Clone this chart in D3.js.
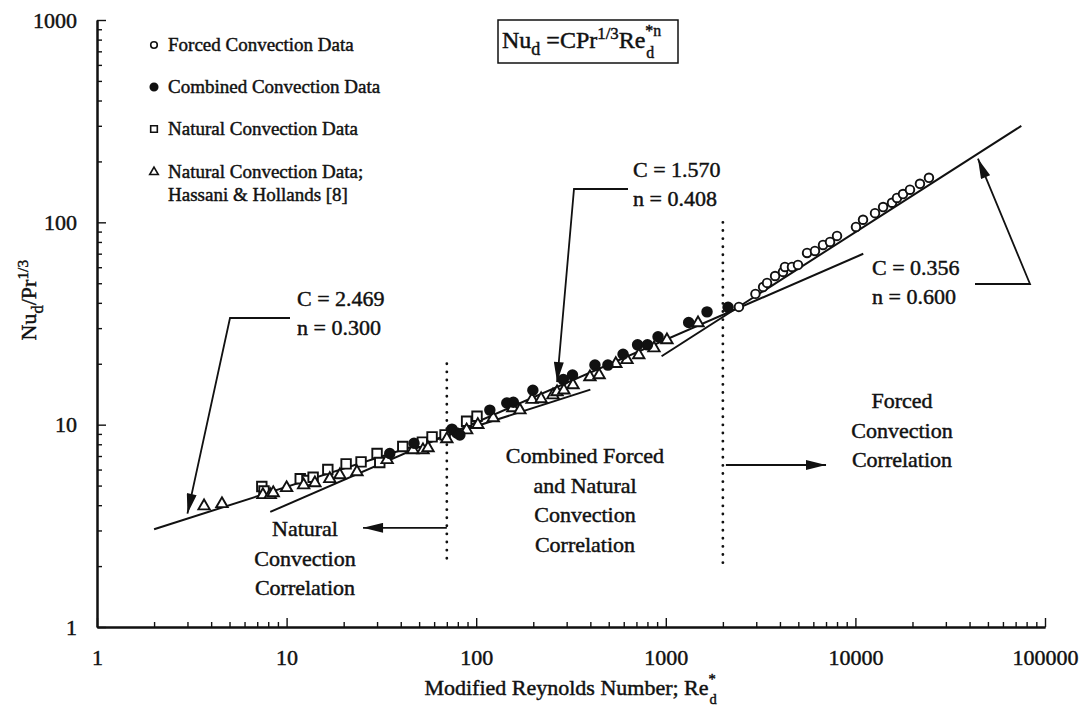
<!DOCTYPE html>
<html>
<head>
<meta charset="utf-8">
<script src="https://cdn.jsdelivr.net/npm/d3@7"></script>
<style>
  body { margin: 0; background: #fff; }
  svg text { font-family: "Liberation Serif", "Times New Roman", serif; fill: #111; }
</style>
</head>
<body>
<svg id="chart" width="1087" height="710"></svg>
<script>
// ---- data: [Re*_d, Nu_d / Pr^(1/3)] ----
const forcedData = [
  [2430, 38.2], [2970, 44.3], [3260, 47.9], [3420, 50.2], [3770, 54.3], [4150, 56.9],
  [4250, 60.2], [4630, 60.2], [4980, 61.6], [5560, 70.6], [6120, 72.2], [6750, 77.3],
  [7350, 80.0], [8000, 85.7], [10070, 94.9], [10970, 103], [12690, 111], [14000, 119],
  [15600, 125], [16570, 132], [17830, 138], [19400, 145], [21900, 155], [24430, 166]
];
const combinedData = [
  [35, 7.2], [47, 8.1], [74.5, 9.5], [79, 9.1], [82, 8.9], [118, 11.8], [145, 12.8],
  [157, 12.9], [199, 14.8], [288, 16.7], [322, 17.6], [423, 19.7], [495, 19.7],
  [595, 22.3], [710, 24.8], [800, 24.8], [910, 27.2], [1320, 32.0], [1650, 36.1], [2130, 38.0]
];
const naturalData = [
  [7.4, 4.95], [7.6, 4.7], [11.8, 5.4], [12.8, 5.3], [13.8, 5.5], [16.5, 6.0], [20.6, 6.4],
  [24.7, 6.55], [30, 7.2], [31, 6.5], [41, 7.8], [52, 8.2], [58.5, 8.7], [68.5, 8.9],
  [89, 10.4], [101, 11.0]
];
const hassaniData = [
  [3.67, 3.96], [4.56, 4.06], [7.5, 4.5], [8.2, 4.5], [8.5, 4.6], [10, 4.87], [12.3, 5.03],
  [14.1, 5.15], [16.9, 5.4], [19.1, 5.64], [23.5, 5.84], [33.9, 6.7], [46.4, 7.5], [52.4, 7.5],
  [55.7, 7.67], [70, 8.5], [89, 9.4], [102, 10.0], [123, 10.8], [156, 12.1], [170, 11.8],
  [197, 13.3], [220, 13.4], [254, 14.0], [267, 14.5], [290, 14.8], [324, 15.7], [398, 17.2],
  [445, 17.6], [545, 20.0], [624, 20.9], [720, 22.1], [866, 23.9], [1014, 26.2], [1479, 31.8]
];

// correlation Nu_d / Pr^(1/3) = C * Re^n, drawn over [from, to]
const correlationC = [2.469, 1.570, 0.356];
const correlationN = [0.300, 0.408, 0.600];
const correlationFrom = [2, 8.2, 950];
const correlationTo = [400, 11000, 75000];
const correlationTipRe = [3.0, 267, 44300];

// regime boundaries in Re*_d
const regimeBounds = [70, 2000];

const xTickValues = [1, 10, 100, 1000, 10000, 100000];
const xTickLabels = ["1", "10", "100", "1000", "10000", "100000"];
const yTickValues = [1, 10, 100, 1000];
const yTickLabels = ["1", "10", "100", "1000"];

const legendLabels = [
  ["Forced Convection Data"],
  ["Combined Convection Data"],
  ["Natural Convection Data"],
  ["Natural Convection Data;", "Hassani & Hollands [8]"]
];

// ---- drawing ----
const svg = d3.select("#chart");
const INK = "#111";

const x = d3.scaleLog().domain([1, 1e5]).range([97, 1045]);
const y = d3.scaleLog().domain([1, 1000]).range([627, 20]);

const defs = svg.append("defs");
defs.append("marker")
  .attr("id", "head")
  .attr("viewBox", "0 0 20 10")
  .attr("refX", 20).attr("refY", 5)
  .attr("markerUnits", "userSpaceOnUse")
  .attr("markerWidth", 21).attr("markerHeight", 10)
  .attr("orient", "auto")
  .append("path").attr("d", "M0,0 L20,5 L0,10 Z").attr("fill", INK);

function minorTicks(decades) {
  const out = [];
  for (let e = 0; e < decades; e++) for (let m = 2; m <= 9; m++) out.push(m * Math.pow(10, e));
  return out;
}

// x axis
const gx = svg.append("g").attr("transform", `translate(0,${y(1)})`);
gx.call(d3.axisBottom(x).tickValues(minorTicks(5)).tickSize(-5).tickSizeOuter(0).tickFormat(""));
gx.append("g").call(d3.axisBottom(x).tickValues(xTickValues).tickSize(-9).tickSizeOuter(0)
  .tickPadding(22).tickFormat((d, i) => xTickLabels[i]));
// y axis
const gy = svg.append("g").attr("transform", `translate(${x(1)},0)`);
gy.call(d3.axisLeft(y).tickValues(minorTicks(3)).tickSize(-5).tickSizeOuter(0).tickFormat(""));
gy.append("g").call(d3.axisLeft(y).tickValues(yTickValues).tickSize(-9).tickSizeOuter(0)
  .tickPadding(20).tickFormat((d, i) => yTickLabels[i]));

svg.selectAll(".domain").attr("stroke", INK).attr("stroke-width", 2);
svg.selectAll(".tick line").attr("stroke", INK).attr("stroke-width", 1.4);
svg.selectAll(".tick text").attr("font-family", null).style("font-size", "22px").attr("fill", INK);

// rich text helper: parts are [string, "sub"|"sup"|undefined]; optional stacked sup/sub at the end
function rich(parent, px, py, size, parts, anchor, stack) {
  const g = parent.append("g");
  const t = g.append("text").attr("x", 0).attr("y", 0).style("font-size", size + "px");
  parts.forEach(([s, kind]) => {
    const sp = t.append("tspan").text(s);
    if (kind === "sub") sp.attr("y", size * 0.3).style("font-size", (size * 0.75) + "px");
    else if (kind === "sup") sp.attr("y", -size * 0.38).style("font-size", (size * 0.7) + "px");
    else sp.attr("y", 0);
  });
  if (stack) {
    const w0 = t.node().getComputedTextLength();
    t.append("tspan").attr("y", -size * 0.5).style("font-size", (size * 0.66) + "px").text(stack[0]);
    t.append("tspan").attr("x", w0 + 1).attr("y", size * 0.4).style("font-size", (size * 0.66) + "px").text(stack[1]);
  }
  const bb = t.node().getBBox();
  let dx = 0;
  if (anchor === "middle") dx = -bb.width / 2;
  if (anchor === "end") dx = -bb.width;
  t.attr("transform", `translate(${dx},0)`);
  g.attr("transform", `translate(${px},${py})`);
  return g;
}

// correlation lines
const line = d3.line().x(d => x(d[0])).y(d => y(d[1]));
correlationC.forEach((C, i) => {
  const n = correlationN[i];
  const pts = [correlationFrom[i], correlationTo[i]].map(r => [r, C * Math.pow(r, n)]);
  svg.append("path").attr("d", line(pts)).attr("fill", "none")
    .attr("stroke", INK).attr("stroke-width", 2);
});

// regime boundaries (dotted)
const boundTop = [20, 100];
regimeBounds.forEach((b, i) => {
  svg.append("line")
    .attr("x1", x(b)).attr("x2", x(b))
    .attr("y1", y(boundTop[i])).attr("y2", y(2))
    .attr("stroke", INK).attr("stroke-width", 2.8)
    .attr("stroke-linecap", "round")
    .attr("stroke-dasharray", "0.1,8");
});

// data markers
const symSquare = d3.symbol().type(d3.symbolSquare).size(90);
const symTri = d3.symbol().type(d3.symbolTriangle).size(56);
const symCircle = d3.symbol().type(d3.symbolCircle).size(58);
const symDot = d3.symbol().type(d3.symbolCircle).size(72);

function plot(data, sym, filled) {
  svg.append("g").selectAll("path").data(data).join("path")
    .attr("transform", d => `translate(${x(d[0])},${y(d[1])})`)
    .attr("d", sym)
    .attr("fill", filled ? INK : "#fff")
    .attr("stroke", INK).attr("stroke-width", 1.9);
}
plot(naturalData, symSquare, false);
plot(hassaniData, symTri, false);
plot(combinedData, symDot, true);
plot(forcedData, symCircle, false);

// legend
const lg = svg.append("g");
const legendY = [45, 87, 129, 172];
const legendSyms = [
  d3.symbol().type(d3.symbolCircle).size(34),
  d3.symbol().type(d3.symbolCircle).size(44),
  d3.symbol().type(d3.symbolSquare).size(44),
  d3.symbol().type(d3.symbolTriangle).size(32)
];
legendLabels.forEach((lines, i) => {
  lg.append("path").attr("transform", `translate(154,${legendY[i]})`)
    .attr("d", legendSyms[i]).attr("fill", i === 1 ? INK : "#fff")
    .attr("stroke", INK).attr("stroke-width", 1.6);
  lines.forEach((s, j) => {
    lg.append("text").attr("x", 168).attr("y", legendY[i] + 6 + j * 23)
      .style("font-size", "19px").text(s);
  });
});

// formula box
rich(svg, 502, 48, 24, [["Nu"], ["d", "sub"], [" =CPr"], ["1/3", "sup"], ["Re"]], "start", ["*n", "d"]);
svg.append("rect").attr("x", 498).attr("y", 20).attr("width", 180).attr("height", 43)
  .attr("fill", "none").attr("stroke", INK).attr("stroke-width", 1.5);

// callouts
function callout(i, textX, textY, elbow) {
  const C = correlationC[i], n = correlationN[i], r = correlationTipRe[i];
  const tipX = x(r), lineY = y(C * Math.pow(r, n));
  const tipY = elbow[1] < lineY ? lineY - 5 : lineY + 5;
  svg.append("path")
    .attr("d", `M${elbow[2]},${elbow[1]} L${elbow[0]},${elbow[1]} L${tipX},${tipY}`)
    .attr("fill", "none").attr("stroke", INK).attr("stroke-width", 1.8)
    .attr("marker-end", "url(#head)");
  svg.append("text").attr("x", textX).attr("y", textY).style("font-size", "22px")
    .text(`C = ${C.toFixed(3)}`);
  svg.append("text").attr("x", textX).attr("y", textY + 29).style("font-size", "22px")
    .text(`n = ${n.toFixed(3)}`);
}
callout(0, 297, 306, [230, 318, 290]);
callout(1, 633, 177, [574, 189, 628]);
callout(2, 872, 275, [1030, 284, 975]);

// regime labels and arrows
function block(cx, y0, lines) {
  lines.forEach((s, j) => {
    svg.append("text").attr("x", cx).attr("y", y0 + j * 29.5)
      .attr("text-anchor", "middle").style("font-size", "22px").text(s);
  });
}
block(305, 536, ["Natural", "Convection", "Correlation"]);
block(585, 463, ["Combined Forced", "and Natural", "Convection", "Correlation"]);
block(902, 408, ["Forced", "Convection", "Correlation"]);

svg.append("line").attr("x1", x(regimeBounds[0])).attr("x2", x(25.3))
  .attr("y1", y(3.09)).attr("y2", y(3.09))
  .attr("stroke", INK).attr("stroke-width", 1.8).attr("marker-end", "url(#head)");
svg.append("line").attr("x1", x(regimeBounds[1]) + 3).attr("x2", x(7000))
  .attr("y1", y(6.32)).attr("y2", y(6.32))
  .attr("stroke", INK).attr("stroke-width", 1.8).attr("marker-end", "url(#head)");

// axis titles
rich(svg, 571, 695, 22, [["Modified Reynolds Number; Re"]], "middle", ["*", "d"]);
const yt = rich(svg, 0, 0, 22, [["Nu"], ["d", "sub"], ["/Pr"], ["1/3", "sup"]], "middle");
yt.attr("transform", "translate(36,300) rotate(-90)");

// heavier ink for all text, like a printed figure
svg.selectAll("text").attr("stroke", INK).attr("stroke-width", 0.45);
</script>
</body>
</html>
